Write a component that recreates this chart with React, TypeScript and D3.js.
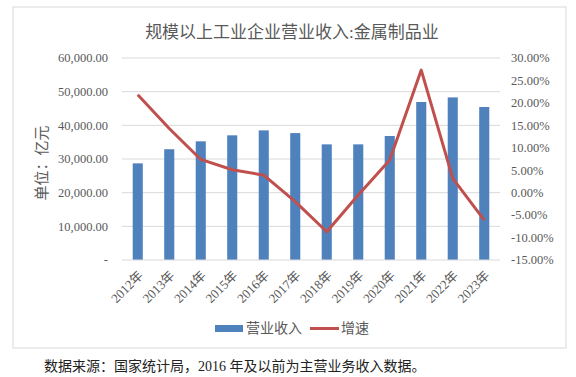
import React from "react";
import * as d3 from "d3";

const years = ["2012年","2013年","2014年","2015年","2016年","2017年","2018年","2019年","2020年","2021年","2022年","2023年"];
const revenue = [28700, 32900, 35250, 37030, 38500, 37700, 34350, 34350, 36830, 46930, 48300, 45440];
const growth = [21.8, 14.3, 7.4, 5.1, 3.9, -2.0, -8.7, -0.5, 7.3, 27.3, 3.2, -6.1];
const leftTicks = [0, 10000, 20000, 30000, 40000, 50000, 60000];
const rightTicks = [-15, -10, -5, 0, 5, 10, 15, 20, 25, 30];

const W = 576, H = 377;
const plot = { left: 122, right: 500, top: 58, bottom: 260 };
const serif = "'Liberation Serif', 'Times New Roman', 'Noto Sans CJK SC', serif";
const cjk = "'Liberation Serif', 'Noto Sans CJK SC', sans-serif";
const gray = "#595959";
const blue = "#4F81BD";
const red = "#C0504D";

export default function App() {
  const x = d3.scaleBand<string>().domain(years).range([plot.left, plot.right]).paddingInner(0.68).paddingOuter(0.34);
  const xc = (d: string) => (x(d) as number) + x.bandwidth() / 2;
  const yL = d3.scaleLinear().domain([0, 60000]).range([plot.bottom, plot.top]);
  const yR = d3.scaleLinear().domain([-15, 30]).range([plot.bottom, plot.top]);
  const line = d3.line<number>().x((_, i) => xc(years[i])).y((d) => yR(d));
  const fmtL = (v: number) => (v === 0 ? "-" : d3.format(",.2f")(v));
  const fmtR = (v: number) => v.toFixed(2) + "%";

  return (
    <svg width={W} height={H} style={{ position: "absolute", left: 0, top: 0, background: "#fff" }}>
      <rect x={13} y={7} width={553} height={341} fill="#fff" stroke="#d9d9d9" strokeWidth={1} />
      <text x={292} y={38} textAnchor="middle" fontSize={17} fill={gray} fontFamily={cjk}>
        规模以上工业企业营业收入:金属制品业
      </text>
      {leftTicks.map((t) => (
        <g key={"l" + t}>
          {t !== 0 && (
            <line x1={plot.left} x2={plot.right} y1={yL(t)} y2={yL(t)} stroke="#d9d9d9" strokeWidth={1} />
          )}
          <text x={108} y={yL(t)} dy="0.35em" textAnchor="end" fontSize={12.5} fill={gray} fontFamily={serif}>
            {fmtL(t)}
          </text>
        </g>
      ))}
      {rightTicks.map((t) => (
        <text key={"r" + t} x={511} y={yR(t)} dy="0.35em" textAnchor="start" fontSize={12.5} fill={gray} fontFamily={serif}>
          {fmtR(t)}
        </text>
      ))}
      {years.map((yr, i) => (
        <rect key={yr} x={x(yr)} y={yL(revenue[i])} width={x.bandwidth()} height={plot.bottom - yL(revenue[i])} fill={blue} />
      ))}
      <line x1={plot.left} x2={plot.right} y1={plot.bottom} y2={plot.bottom} stroke="#d9d9d9" strokeWidth={1} />
      <path d={line(growth) || ""} fill="none" stroke={red} strokeWidth={3} strokeLinejoin="round" />
      {years.map((yr) => (
        <text key={"x" + yr} transform={`translate(${xc(yr) + 3},${plot.bottom + 13}) rotate(-45)`} textAnchor="end" dy="0.35em" fontSize={13} fill={gray} fontFamily={cjk}>
          {yr}
        </text>
      ))}
      <text transform={`translate(42,163) rotate(-90)`} textAnchor="middle" dy="0.35em" fontSize={15} fill={gray} fontFamily={cjk}>
        单位：亿元
      </text>
      <rect x={215} y={325} width={28} height={7} fill={blue} />
      <text x={246} y={328.5} dy="0.35em" fontSize={14} fill={gray} fontFamily={cjk}>营业收入</text>
      <line x1={310} x2={339} y1={328.5} y2={328.5} stroke={red} strokeWidth={3} />
      <text x={341} y={328.5} dy="0.35em" fontSize={14} fill={gray} fontFamily={cjk}>增速</text>
      <text x={44} y={366} dy="0.35em" fontSize={14} fill="#222" fontFamily={cjk}>
        数据来源：国家统计局，2016 年及以前为主营业务收入数据。
      </text>
    </svg>
  );
}
